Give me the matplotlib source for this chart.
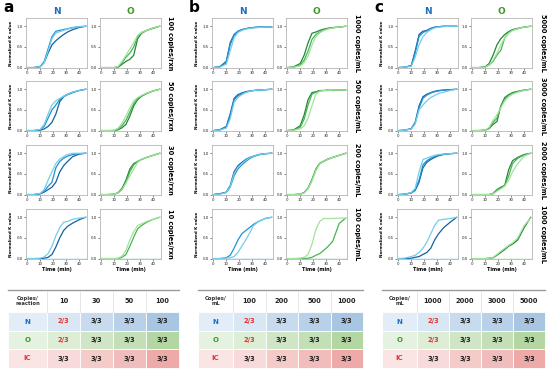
import matplotlib

matplotlib.use("Agg")
import matplotlib.pyplot as plt
from matplotlib.patches import Rectangle

# time grid (min) shared by every read-off curve
T = [0, 5, 10, 13, 16, 19, 22, 25, 28, 31, 35, 40, 45]
Z = [0] * 13

# replicate order in every panel: dark, mid, light
# panel a  (copies/rxn)
a_n_100 = [[0, 0, 0.02, 0.12, 0.35, 0.55, 0.65, 0.73, 0.8, 0.86, 0.92, 0.97, 1.0],
           [0, 0, 0.03, 0.15, 0.45, 0.75, 0.88, 0.9, 0.92, 0.94, 0.97, 0.99, 1.0],
           [0, 0, 0.02, 0.12, 0.4, 0.7, 0.84, 0.87, 0.9, 0.93, 0.96, 0.99, 1.0]]
a_o_100 = [[0, 0, 0, 0.01, 0.08, 0.15, 0.2, 0.3, 0.7, 0.83, 0.9, 0.95, 1.0],
           [0, 0, 0, 0.02, 0.12, 0.25, 0.35, 0.5, 0.75, 0.85, 0.9, 0.96, 1.0],
           [0, 0, 0, 0.03, 0.15, 0.3, 0.45, 0.6, 0.78, 0.85, 0.9, 0.96, 1.0]]
a_n_50 = [[0, 0, 0.01, 0.04, 0.1, 0.2, 0.4, 0.7, 0.82, 0.87, 0.92, 0.97, 1.0],
          [0, 0, 0.02, 0.1, 0.3, 0.5, 0.62, 0.75, 0.83, 0.88, 0.93, 0.97, 1.0],
          [0, 0, 0.03, 0.15, 0.4, 0.62, 0.72, 0.78, 0.83, 0.88, 0.93, 0.97, 1.0]]
a_o_50 = [[0, 0, 0, 0.02, 0.07, 0.15, 0.35, 0.6, 0.75, 0.83, 0.9, 0.96, 1.0],
          [0, 0, 0, 0.04, 0.12, 0.25, 0.45, 0.65, 0.78, 0.84, 0.9, 0.96, 1.0],
          [0, 0, 0.01, 0.06, 0.18, 0.35, 0.55, 0.72, 0.8, 0.85, 0.91, 0.96, 1.0]]
a_n_30 = [[0, 0, 0.02, 0.06, 0.12, 0.18, 0.3, 0.55, 0.7, 0.8, 0.92, 0.98, 1.0],
          [0, 0, 0.02, 0.08, 0.2, 0.3, 0.65, 0.8, 0.88, 0.93, 0.97, 0.99, 1.0],
          [0, 0, 0.03, 0.12, 0.35, 0.55, 0.75, 0.86, 0.92, 0.97, 1.0, 1.0, 1.0]]
a_o_30 = [[0, 0, 0.01, 0.05, 0.15, 0.35, 0.62, 0.75, 0.8, 0.85, 0.9, 0.95, 1.0],
          [0, 0, 0.01, 0.04, 0.12, 0.3, 0.55, 0.72, 0.8, 0.85, 0.9, 0.95, 1.0],
          [0, 0, 0.01, 0.04, 0.12, 0.28, 0.45, 0.62, 0.78, 0.85, 0.9, 0.95, 1.0]]
a_n_10 = [[0, 0, 0, 0.01, 0.03, 0.1, 0.28, 0.5, 0.68, 0.78, 0.86, 0.94, 1.0],
          Z,
          [0, 0, 0.01, 0.04, 0.12, 0.3, 0.55, 0.75, 0.88, 0.9, 0.95, 0.98, 1.0]]
a_o_10 = [Z,
          [0, 0, 0, 0, 0.03, 0.1, 0.3, 0.52, 0.72, 0.8, 0.88, 0.95, 1.0],
          [0, 0, 0, 0.01, 0.06, 0.2, 0.45, 0.65, 0.8, 0.84, 0.9, 0.95, 1.0]]

# panel b  (copies/mL)
b_n_1000 = [[0, 0.02, 0.15, 0.6, 0.8, 0.88, 0.92, 0.94, 0.96, 0.97, 0.98, 0.98, 0.98],
            [0, 0.02, 0.12, 0.55, 0.78, 0.87, 0.91, 0.94, 0.96, 0.97, 0.98, 0.98, 0.98],
            [0, 0.01, 0.08, 0.4, 0.72, 0.85, 0.9, 0.93, 0.95, 0.96, 0.97, 0.98, 0.98]]
b_o_1000 = [[0, 0.02, 0.1, 0.3, 0.6, 0.83, 0.86, 0.9, 0.93, 0.95, 0.97, 0.98, 1.0],
            [0, 0.01, 0.06, 0.18, 0.4, 0.68, 0.8, 0.86, 0.9, 0.94, 0.96, 0.98, 1.0],
            [0, 0.01, 0.04, 0.12, 0.28, 0.55, 0.75, 0.84, 0.9, 0.93, 0.96, 0.98, 1.0]]
b_n_500 = [[0, 0.02, 0.1, 0.4, 0.78, 0.87, 0.91, 0.94, 0.96, 0.97, 0.98, 0.99, 1.0],
           [0, 0.02, 0.08, 0.35, 0.74, 0.84, 0.89, 0.93, 0.95, 0.97, 0.98, 0.99, 1.0],
           [0, 0.01, 0.06, 0.28, 0.68, 0.8, 0.87, 0.92, 0.95, 0.97, 0.98, 0.99, 1.0]]
b_o_500 = [[0, 0.02, 0.12, 0.38, 0.75, 0.92, 0.94, 0.97, 0.97, 0.98, 0.97, 0.98, 0.98],
           [0, 0.01, 0.08, 0.28, 0.62, 0.88, 0.93, 0.96, 0.97, 0.97, 0.98, 0.98, 0.98],
           [0, 0.01, 0.04, 0.12, 0.3, 0.6, 0.88, 0.95, 0.97, 0.97, 0.98, 0.98, 0.98]]
b_n_200 = [[0, 0.02, 0.06, 0.22, 0.55, 0.7, 0.78, 0.85, 0.9, 0.93, 0.97, 0.99, 1.0],
           [0, 0.02, 0.05, 0.18, 0.45, 0.62, 0.72, 0.8, 0.87, 0.92, 0.96, 0.99, 1.0],
           [0, 0.01, 0.05, 0.2, 0.5, 0.66, 0.75, 0.83, 0.89, 0.93, 0.97, 0.99, 1.0]]
b_o_200 = [[0, 0, 0.01, 0.05, 0.15, 0.35, 0.6, 0.75, 0.8, 0.85, 0.9, 0.95, 1.0],
           [0, 0, 0.01, 0.05, 0.16, 0.37, 0.62, 0.76, 0.81, 0.86, 0.9, 0.95, 1.0],
           [0, 0, 0.01, 0.04, 0.14, 0.33, 0.58, 0.74, 0.8, 0.85, 0.9, 0.95, 1.0]]
b_n_100 = [Z,
           [0, 0, 0.02, 0.08, 0.25, 0.45, 0.6, 0.68, 0.75, 0.83, 0.9, 0.97, 1.0],
           [0, 0, 0.01, 0.02, 0.05, 0.15, 0.3, 0.45, 0.62, 0.8, 0.9, 0.97, 1.0]]
b_o_100 = [Z,
           [0, 0, 0, 0, 0.01, 0.03, 0.08, 0.12, 0.2, 0.28, 0.42, 0.85, 0.98],
           [0, 0, 0.01, 0.03, 0.1, 0.35, 0.7, 0.9, 0.97, 0.97, 0.97, 0.98, 0.98]]

# panel c  (copies/mL)
c_n_5000 = [[0, 0.01, 0.05, 0.4, 0.8, 0.88, 0.9, 0.95, 0.98, 0.99, 1.0, 1.0, 1.0],
            [0, 0.01, 0.04, 0.35, 0.75, 0.85, 0.89, 0.94, 0.97, 0.99, 1.0, 1.0, 1.0],
            [0, 0.01, 0.03, 0.25, 0.55, 0.75, 0.85, 0.92, 0.96, 0.98, 0.99, 1.0, 1.0]]
c_o_5000 = [[0, 0, 0.02, 0.1, 0.3, 0.55, 0.7, 0.8, 0.87, 0.92, 0.95, 0.98, 1.0],
            [0, 0, 0.01, 0.06, 0.15, 0.3, 0.42, 0.72, 0.84, 0.9, 0.94, 0.98, 1.0],
            [0, 0, 0.01, 0.06, 0.18, 0.35, 0.55, 0.72, 0.83, 0.9, 0.94, 0.98, 1.0]]
c_n_3000 = [[0, 0.01, 0.05, 0.2, 0.6, 0.82, 0.88, 0.92, 0.95, 0.97, 0.98, 0.99, 1.0],
            [0, 0.01, 0.04, 0.18, 0.55, 0.78, 0.86, 0.91, 0.94, 0.96, 0.98, 0.99, 1.0],
            [0, 0.01, 0.04, 0.16, 0.5, 0.62, 0.72, 0.8, 0.85, 0.9, 0.93, 0.97, 1.0]]
c_o_3000 = [[0, 0, 0.01, 0.05, 0.15, 0.22, 0.6, 0.8, 0.87, 0.92, 0.95, 0.98, 1.0],
            [0, 0, 0.01, 0.06, 0.2, 0.3, 0.58, 0.76, 0.85, 0.9, 0.94, 0.98, 1.0],
            [0, 0, 0.01, 0.08, 0.25, 0.38, 0.55, 0.72, 0.82, 0.88, 0.93, 0.97, 1.0]]
c_n_2000 = [[0, 0.01, 0.04, 0.1, 0.3, 0.65, 0.78, 0.85, 0.9, 0.94, 0.97, 0.99, 1.0],
            [0, 0.01, 0.04, 0.12, 0.35, 0.72, 0.82, 0.88, 0.92, 0.95, 0.98, 0.99, 1.0],
            [0, 0.01, 0.05, 0.15, 0.55, 0.85, 0.88, 0.92, 0.95, 0.97, 0.98, 0.99, 1.0]]
c_o_2000 = [[0, 0, 0, 0, 0.03, 0.12, 0.18, 0.22, 0.6, 0.82, 0.9, 0.97, 1.0],
            [0, 0, 0, 0, 0.02, 0.1, 0.16, 0.22, 0.45, 0.75, 0.88, 0.96, 1.0],
            [0, 0, 0, 0, 0.02, 0.08, 0.14, 0.2, 0.35, 0.55, 0.75, 0.93, 1.0]]
c_n_1000 = [[0, 0, 0.01, 0.03, 0.05, 0.1, 0.15, 0.25, 0.45, 0.6, 0.75, 0.88, 1.0],
            Z,
            [0, 0.01, 0.05, 0.08, 0.15, 0.25, 0.4, 0.6, 0.8, 0.93, 0.95, 0.97, 1.0]]
c_o_1000 = [[0, 0, 0, 0.01, 0.02, 0.08, 0.15, 0.22, 0.3, 0.35, 0.45, 0.75, 1.0],
            Z,
            [0, 0, 0, 0.01, 0.03, 0.1, 0.18, 0.25, 0.32, 0.38, 0.5, 0.8, 0.98]]

row_labels_a = ["100 copies/rxn", "50 copies/rxn", "30 copies/rxn", "10 copies/rxn"]
row_labels_b = ["1000 copies/mL", "500 copies/mL", "200 copies/mL", "100 copies/mL"]
row_labels_c = ["5000 copies/mL", "3000 copies/mL", "2000 copies/mL", "1000 copies/mL"]

table_head_a = ["Copies/\nreaction", "10", "30", "50", "100"]
table_head_b = ["Copies/\nmL", "100", "200", "500", "1000"]
table_head_c = ["Copies/\nmL", "1000", "2000", "3000", "5000"]
targets = ["N", "O", "IC"]
results_n = ["2/3", "3/3", "3/3", "3/3"]
results_o = ["2/3", "3/3", "3/3", "3/3"]
results_ic = ["3/3", "3/3", "3/3", "3/3"]

BLUES = ["#14609f", "#1e92d2", "#74cdea"]
GREENS = ["#238636", "#45b552", "#a2e29c"]
CELL_COLORS = {
    "N": ["#e2edf7", "#d9e6f3", "#c7daee", "#b9d0e9", "#a8c5e2"],
    "O": ["#e6f2e1", "#ddedd6", "#cfe5c5", "#c3dfb7", "#b3d6a3"],
    "IC": ["#fbe5e4", "#f8dada", "#f5cbca", "#f1bdbc", "#eeaaa9"],
}
TARGET_COLORS = {"N": "#1a6fc0", "O": "#3a9a22", "IC": "#e23a3a"}

W, H = 550, 369
fig = plt.figure(figsize=(5.5, 3.69), dpi=100)
canvas = fig.add_axes([0, 0, 1, 1])
canvas.set_xlim(0, W)
canvas.set_ylim(H, 0)
canvas.axis("off")

groups = [
    ("a", 26, [a_n_100, a_n_50, a_n_30, a_n_10], [a_o_100, a_o_50, a_o_30, a_o_10],
     row_labels_a, 170, table_head_a, 8, 39, 33),
    ("b", 212, [b_n_1000, b_n_500, b_n_200, b_n_100], [b_o_1000, b_o_500, b_o_200, b_o_100],
     row_labels_b, 357, table_head_b, 198, 35, 32.5),
    ("c", 397, [c_n_5000, c_n_3000, c_n_2000, c_n_1000], [c_o_5000, c_o_3000, c_o_2000, c_o_1000],
     row_labels_c, 543, table_head_c, 382, 35, 32),
]
row_tops = [18, 81, 145, 209]
AX_W, AX_H = 61, 50


def small_axes(x, y, curves, colors, ylabel, xlabel):
    ax = fig.add_axes([x / W, 1 - (y + AX_H) / H, AX_W / W, AX_H / H])
    for ys, col in zip(curves, colors):
        ax.plot(T, ys, color=col, lw=0.9)
    ax.set_xlim(-1, 46)
    ax.set_ylim(-0.01, 1.2)
    ax.set_xticks([0, 10, 20, 30, 40])
    ax.set_yticks([0, 0.5, 1.0])
    ax.set_yticklabels(["0.0", "0.5", "1.0"])
    ax.tick_params(labelsize=2.8, length=1.2, width=0.4, pad=1, colors="#222222")
    for s in ax.spines.values():
        s.set_color("#b5b5b5")
        s.set_linewidth(0.6)
    if ylabel:
        ax.set_ylabel("Normalized K value", fontsize=3, fontweight="bold", labelpad=3)
    if xlabel:
        ax.set_xlabel("Time (min)", fontsize=3.5, fontweight="bold", labelpad=1)
    return ax


for letter, x0, n_rows, o_rows, rlabels, rl_x, thead, tx, c0w, cw in groups:
    xo = x0 + 74
    canvas.text(x0 - 23, 8, letter, fontsize=11, fontweight="bold", va="center")
    canvas.text(x0 + AX_W / 2, 12, "N", fontsize=6.5, fontweight="bold",
                color=TARGET_COLORS["N"], ha="center", va="center")
    canvas.text(xo + AX_W / 2, 12, "O", fontsize=6.5, fontweight="bold",
                color=TARGET_COLORS["O"], ha="center", va="center")
    for i, yt in enumerate(row_tops):
        last = i == 3
        small_axes(x0, yt, n_rows[i], BLUES, True, last)
        small_axes(xo, yt, o_rows[i], GREENS, False, last)
        canvas.text(rl_x, yt + AX_H / 2, rlabels[i], fontsize=4.8, fontweight="bold",
                    rotation=-90, ha="center", va="center")

    # detection table
    col_x = [tx, tx + c0w] + [tx + c0w + cw * k for k in range(1, 5)]
    widths = [c0w] + [cw] * 4
    row_y = [290, 312, 331, 349, 368]
    canvas.plot([tx, tx + c0w + 4 * cw], [290, 290], color="#9a9a9a", lw=1.0)
    for j in range(5):
        cx = col_x[j] + widths[j] / 2
        if j == 0:
            canvas.text(cx, 301, thead[j], fontsize=3.8, fontweight="bold", color="#333333",
                        ha="center", va="center", linespacing=1.2)
        else:
            canvas.text(cx, 301, thead[j], fontsize=4.8, fontweight="bold", color="#222222",
                        ha="center", va="center")
            canvas.plot([col_x[j], col_x[j]], [291, 312], color="#e2e2e2", lw=0.6)
    for r, (tgt, vals) in enumerate(zip(targets, [results_n, results_o, results_ic])):
        y0, y1 = row_y[r + 1], row_y[r + 2]
        for j in range(5):
            canvas.add_patch(Rectangle((col_x[j], y0), widths[j], y1 - y0,
                                       facecolor=CELL_COLORS[tgt][j], edgecolor="white", lw=0.6))
        canvas.text(col_x[0] + c0w / 2, (y0 + y1) / 2, tgt, fontsize=5, fontweight="bold",
                    color=TARGET_COLORS[tgt], ha="center", va="center")
        for j, v in enumerate(vals):
            canvas.text(col_x[j + 1] + cw / 2, (y0 + y1) / 2, v, fontsize=4.8, fontweight="bold",
                        color="#e8302a" if v == "2/3" else "#1a1a1a", ha="center", va="center")

fig.savefig("out.png", dpi=100)
